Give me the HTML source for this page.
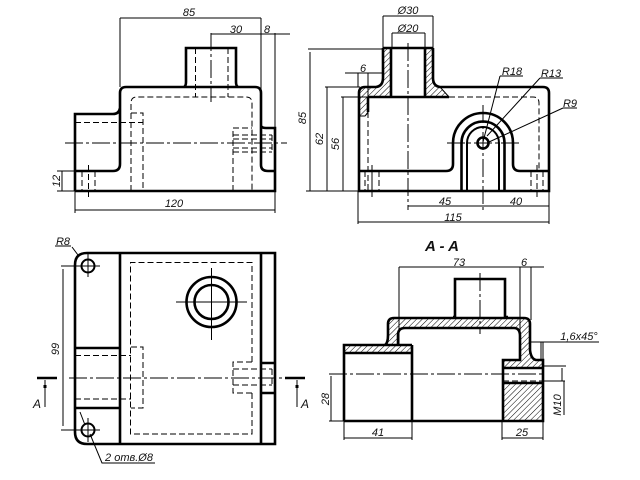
<!DOCTYPE html>
<html><head><meta charset="utf-8"><style>
html,body{margin:0;padding:0;background:#fff}
svg{display:block}
text{font-family:"Liberation Sans",sans-serif;font-style:italic;font-size:11px;fill:#111;text-anchor:middle}
.k{fill:none;stroke:#000;stroke-width:2.6}
.m{fill:none;stroke:#000;stroke-width:2}
.t{fill:none;stroke:#000;stroke-width:1}
.d{fill:none;stroke:#000;stroke-width:1;stroke-dasharray:6 3}
.c{fill:none;stroke:#000;stroke-width:1;stroke-dasharray:18 3 3 3}
</style></head><body>
<svg width="640" height="480" viewBox="0 0 640 480" xmlns="http://www.w3.org/2000/svg">
<defs><pattern id="h" width="4" height="4" patternUnits="userSpaceOnUse" patternTransform="rotate(45)"><rect width="4" height="4" fill="#fff"/><line x1="0" y1="0" x2="0" y2="4" stroke="#000" stroke-width="1"/></pattern></defs>
<rect width="640" height="480" fill="#fff"/>

<!-- VIEW 1 -->
<path class="k" d="M75 191V114H113Q119 114 120 108V93Q120 87 126 87H255Q261 87 261 93V165Q261 171 268 171H275M75 171H113Q120 171 120 164V108M261 126Q262 128 266 128H275V191H75"/>
<path class="k" d="M184 87Q186 86 186 82V48H236V82Q236 86 238 87"/>
<path class="d" d="M131 191V103Q131 97 137 97H246Q252 97 252 103V191"/>
<path class="d" d="M131 113H143V191M75 122.500H143M233 191V128H252M233 135H272M233 139H272M233 148H272M233 152H272M272 135V152M195.500 48V97M228 48V97M82 171V191M95 171V191M365 171V191M379 171V191"/>
<path class="c" d="M211 33V102M65 143H287"/>
<path class="d" d="M88.500 165V197"/>
<path class="t" d="M120 18V87M261 18V93M120 18H261M211 34H290M275 33V128M75 191V213M275 191V213M75 210H275M57 171H75M57 191H75M62 171V191"/>
<text x="189" y="16">85</text><text x="236" y="33">30</text><text x="267" y="33">8</text><text x="174" y="207">120</text>
<text transform="translate(60 181) rotate(-90)">12</text>

<!-- VIEW 2 -->
<path fill="url(#h)" d="M383 48H391V97H368V116H359V93Q359 87 365 87H376Q383 86 383 78Z"/>
<path fill="url(#h)" d="M425 48H433V78Q434 86 441 88L449 97H425Z"/>
<path class="k" d="M383 48H433M391 48V97M425 48V97M383 48V78Q383 86 376 87H365Q359 87 359 93V191H549V93Q549 87 543 87H440Q433 86 433 78V48M368 97H449M368 97V112"/>
<path class="k" d="M359 171H446Q453 171 453 164V143A30 30 0 0 1 513 143V164Q513 171 520 171H549"/>
<path class="k" d="M461.500 191V143A21.500 21.500 0 0 1 504.500 143V191"/>
<path class="m" d="M467 191V143A16 16 0 0 1 499 143V191"/>
<circle cx="483" cy="143" r="5.500" class="k"/>
<path class="t" d="M440 87L449 97M359 116H365L368 112"/>
<path class="d" d="M449 97H533Q539 97 539 103V171M368 112V191M372 165V197M537 165V197M531 171V191M543 171V191M372 171V191"/>
<path class="c" d="M408 43V210M483 105V210M447 143H519"/>
<path class="t" d="M383 16V48M433 16V48M383 16H433M392 33V48M425 33V48M392 33H425M345 73H383M358 73V87M368 73V97M308 49H383M310 52V191M325 87H360M327 87V191M341 97H368M343 97V191M306 191H359M358 191V224M549 191V224M358 222H549M408 206H549M500 76L483 142M500 76H523M540 78L487 136M540 78H563M563 108L489 142M563 108H577"/>
<text x="408" y="14">Ø30</text><text x="408" y="32">Ø20</text><text x="363" y="72">6</text>
<text transform="translate(306 118) rotate(-90)">85</text><text transform="translate(323 139) rotate(-90)">62</text><text transform="translate(339 144) rotate(-90)">56</text>
<text x="445" y="205">45</text><text x="516" y="205">40</text><text x="453" y="221">115</text>
<text x="512" y="75">R18</text><text x="551" y="77">R13</text><text x="570" y="107">R9</text>

<!-- VIEW 3 -->
<path class="k" d="M87 253H275V444H87Q75 444 75 432V265Q75 253 87 253Z"/>
<path class="k" d="M120 253V444M261 253V444M75 348H120M75 408H120M261 363H275M261 393H275"/>
<circle cx="88" cy="266" r="6.500" class="m"/><circle cx="88" cy="430" r="6.500" class="m"/>
<circle cx="211.500" cy="302" r="25" class="k"/><circle cx="211.500" cy="302" r="17" class="k"/>
<path class="t" d="M61 266H100M88 253V277M61 430H100M88 418V442M176 302H247M211.500 268V340"/>
<path class="d" d="M252 362V262.500H130.500V434H252V393M131 347H143V408H131M75 355.500H131M75 399H131M252 362H233V393H252M233 369H272M233 385H272M272 369V385"/>
<path class="c" d="M69 378H285"/>
<path class="k" d="M37 378H57M285 378H305"/>
<path class="t" d="M45 380V407M297 380V407M63 269V426M72 247L78 255M55 246H71M80 412L85 425M90 434L102 463H155"/>
<rect x="43.500" y="385" width="3" height="3" fill="#000"/><rect x="295.500" y="385" width="3" height="3" fill="#000"/>
<text x="37" y="408" style="font-size:12px">A</text><text x="305" y="408" style="font-size:12px">A</text>
<text x="63" y="245">R8</text>
<text transform="translate(59 349) rotate(-90)">99</text>
<text x="129" y="461">2 отв.Ø8</text>

<!-- VIEW 4 (section) -->
<text x="442" y="251" style="font-size:15px;font-weight:bold">A - A</text>
<path fill="url(#h)" d="M344 345H385Q388 343 388 335V324Q388 318 394 318H524Q530 318 530 324V350Q531 359 536 360H543V368H503V360H520V336Q520 328 514 328H405Q398 328 398 335V345H412V353H344Z"/>
<path fill="url(#h)" d="M503 383H543V421H503Z"/>
<path class="k" d="M344 421V345H385Q388 343 388 335V324Q388 318 394 318H524Q530 318 530 324V350Q531 359 536 360H543V421H344M398 345V335Q398 328 405 328H514Q520 328 520 336V360H503V421M344 353H412M344 345H412M412 345V421M503 368H543M503 383H543"/>
<path class="k" d="M455 317V279H505V317M453 317H455M505 317H508"/>
<path class="c" d="M329 374H545M480 273V334"/>
<path class="d" d="M503 381H543"/>
<path class="t" d="M399 267H544M399 267V345M520 267V332M531 267V320M531 342H599M541 342V360M543 342V360M543 366H566M543 381H565M564 381V415M562 368V381M329 421H344M331 376V421M344 421V440M412 421V440M344 438H412M502 421V440M543 421V440M502 438H543"/>
<text x="459" y="266">73</text><text x="524" y="266">6</text><text x="579" y="340">1,6x45°</text>
<text x="378" y="436">41</text><text x="522" y="436">25</text>
<text transform="translate(329 399) rotate(-90)">28</text>
<text transform="translate(561 405) rotate(-90)">M10</text>
</svg>
</body></html>
